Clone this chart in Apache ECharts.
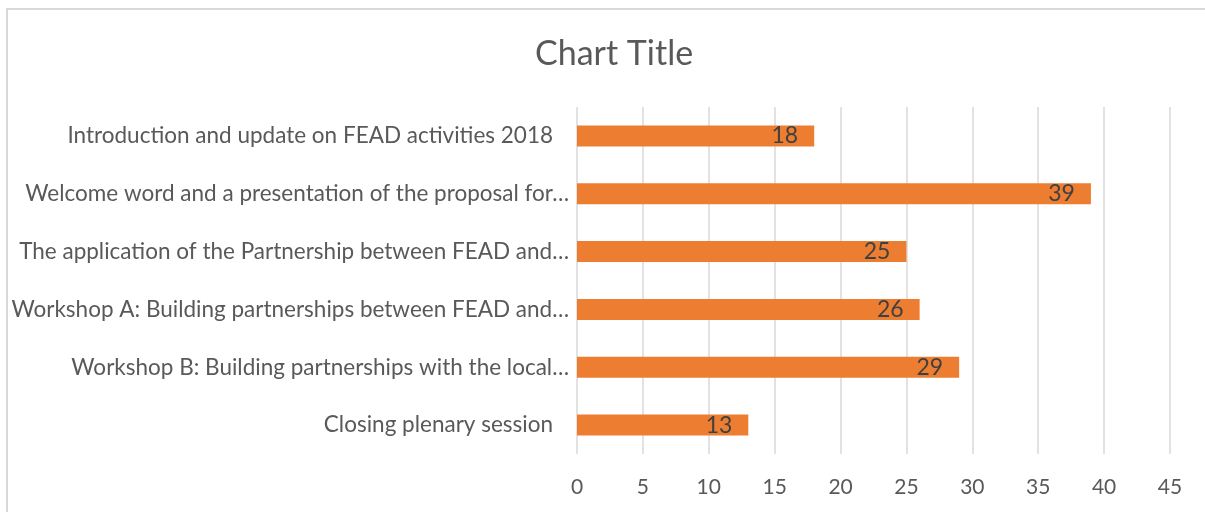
<!DOCTYPE html>
<html>
<head>
<meta charset="utf-8">
<script src="https://cdn.jsdelivr.net/npm/echarts@6/dist/echarts.min.js"></script>
<style>
  html, body { margin: 0; padding: 0; background: #fff; }
  #chart { width: 1205px; height: 512px; }
</style>
</head>
<body>
<div id="chart"></div>
<script>
// 会议各环节人数
var sessions = [
  'Introduction and update on FEAD activities 2018',
  'Welcome word and a presentation of the proposal for…',
  'The application of the Partnership between FEAD and…',
  'Workshop A: Building partnerships between FEAD and…',
  'Workshop B: Building partnerships with the local…',
  'Closing plenary session'
];
var counts = [18, 39, 25, 26, 29, 13];
var xTicks = [0, 5, 10, 15, 20, 25, 30, 35, 40, 45];

var font = 'Lato';
var myChart = echarts.init(document.getElementById('chart'));

var option = {
  backgroundColor: '#fff',
  animation: false,
  title: {
    text: 'Chart Title',
    left: 530,
    top: 32,
    textStyle: { fontFamily: font, fontSize: 34, fontWeight: 'normal', color: '#595959' }
  },
  graphic: [{
    type: 'rect',
    shape: { x: 7, y: 9, width: 1220, height: 520 },
    style: { fill: 'none', stroke: '#d9d9d9', lineWidth: 2 },
    silent: true
  }],
  grid: { left: 577, right: 35, top: 107, bottom: 58, containLabel: false },
  xAxis: {
    type: 'value',
    min: xTicks[0],
    max: xTicks[xTicks.length - 1],
    interval: 5,
    axisLine: { show: false },
    axisTick: { show: false },
    splitLine: { show: true, lineStyle: { color: '#d9d9d9', width: 1.5 } },
    axisLabel: { fontFamily: font, fontSize: 21, color: '#595959', margin: 23 }
  },
  yAxis: {
    type: 'category',
    inverse: true,
    data: sessions,
    axisLine: { show: false },
    axisTick: { show: false },
    axisLabel: {
      fontFamily: font,
      fontSize: 22.5,
      color: '#595959',
      margin: 8,
      formatter: function (v) {
        // 未截断的标签离轴远一点
        return v.slice(-1) === '…' ? v : '{p|' + v + '}';
      },
      rich: {
        p: { fontFamily: font, fontSize: 22.5, color: '#595959', padding: [0, 16, 0, 0] }
      }
    }
  },
  series: [{
    type: 'bar',
    data: counts,
    barWidth: 21,
    itemStyle: { color: '#ED7D31' },
    label: {
      show: true,
      position: 'insideRight',
      distance: 16,
      fontFamily: font,
      fontSize: 23,
      color: '#404040'
    }
  }]
};
myChart.setOption(option);
</script>
</body>
</html>
